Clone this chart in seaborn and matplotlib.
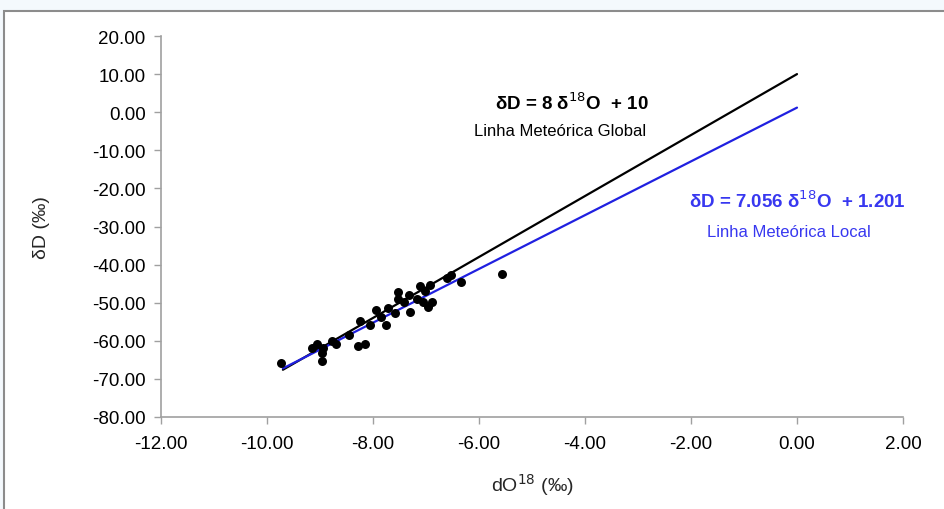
import matplotlib
matplotlib.use("Agg")
import matplotlib.pyplot as plt
from matplotlib.patches import Rectangle
import seaborn as sns
import numpy as np
import pandas as pd

# dados das amostras (d18O, dD)
d18o = [-9.74, -8.97, -8.97, -9.16, -9.06, -8.94, -8.78, -8.70, -8.45, -8.28,
        -8.15, -8.25, -8.06, -7.94, -7.84, -7.76, -7.72, -7.58, -7.52, -7.52,
        -7.42, -7.30, -7.33, -7.17, -7.11, -7.02, -7.05, -6.96, -6.89, -6.92,
        -6.61, -6.53, -6.34, -5.56]
dD = [-65.9, -65.2, -63.3, -61.9, -60.8, -61.9, -60.1, -60.8, -58.5, -61.3,
      -60.8, -54.7, -55.9, -51.9, -53.8, -55.9, -51.5, -52.8, -47.1, -49.0,
      -49.7, -52.4, -48.0, -48.9, -45.5, -46.9, -49.7, -51.2, -49.7, -45.4,
      -43.6, -42.7, -44.6, -42.5]

# retas meteóricas
line_x = [-9.7, 0.0]
global_slope, global_icpt = 8.0, 10.0
local_slope, local_icpt = 7.056, 1.201

x_ticks = [-12, -10, -8, -6, -4, -2, 0, 2]
y_ticks = [20, 10, 0, -10, -20, -30, -40, -50, -60, -70, -80]

sns.set_theme(style="white")
plt.rcParams['font.family'] = ['Liberation Sans', 'DejaVu Sans']

fig = plt.figure(figsize=(9.44, 5.10), dpi=100, facecolor='#F4F9FD')
# moldura cinza
fig.patches.append(Rectangle((4 / 944, -0.01), 1.0, (510 - 12) / 510 + 0.01,
                             transform=fig.transFigure, facecolor='white',
                             edgecolor='#8c8c8c', linewidth=1.5, zorder=-5))
ax = fig.add_axes([161 / 944, 1 - 418 / 510, (903 - 161) / 944, (418 - 37) / 510])
ax.set_facecolor('none')

lx = np.array(line_x)
df_lines = pd.DataFrame({
    'x': np.concatenate([lx, lx]),
    'y': np.concatenate([global_slope * lx + global_icpt, local_slope * lx + local_icpt]),
    'linha': ['global'] * 2 + ['local'] * 2,
})
sns.lineplot(data=df_lines, x='x', y='y', hue='linha',
             palette={'global': 'black', 'local': '#2020e0'},
             linewidth=1.6, legend=False, ax=ax)

sns.scatterplot(x=d18o, y=dD, color='black', s=42, edgecolor='black',
                linewidth=0, ax=ax, zorder=3)

ax.set_xlim(-12, 2)
ax.set_ylim(-80, 20)
ax.set_xticks(x_ticks)
ax.set_yticks(y_ticks)
ax.set_xticklabels([f"{v:.2f}" for v in x_ticks])
ax.set_yticklabels([f"{v:.2f}" for v in y_ticks])

for s in ['top', 'right']:
    ax.spines[s].set_visible(False)
for s in ['left', 'bottom']:
    ax.spines[s].set_color('#a0a0a0')
    ax.spines[s].set_linewidth(1.2)
ax.tick_params(axis='both', direction='out', length=5, width=1, color='#a0a0a0',
               labelsize=13.5, labelcolor='black', left=True, bottom=True)
ax.tick_params(axis='y', pad=6)
ax.tick_params(axis='x', pad=8)

ax.set_xlabel('dO$^{18}$ (‰)', fontsize=14, labelpad=14)
ax.set_ylabel('δD (‰)', fontsize=14, labelpad=30)

ax.text(-4.25, 2.7, 'δD = 8 δ$^{18}$O  + 10', fontsize=13.5, fontweight='bold',
        ha='center', va='center', color='black')
ax.text(-4.47, -4.7, 'Linha Meteórica Global', fontsize=12,
        ha='center', va='center', color='black')
ax.text(0.0, -23.0, 'δD = 7.056 δ$^{18}$O  + 1.201', fontsize=13.5, fontweight='bold',
        ha='center', va='center', color='#3838f0')
ax.text(-0.15, -31.4, 'Linha Meteórica Local', fontsize=12,
        ha='center', va='center', color='#3838f0')

fig.savefig('out.png', dpi=100, facecolor=fig.get_facecolor())
